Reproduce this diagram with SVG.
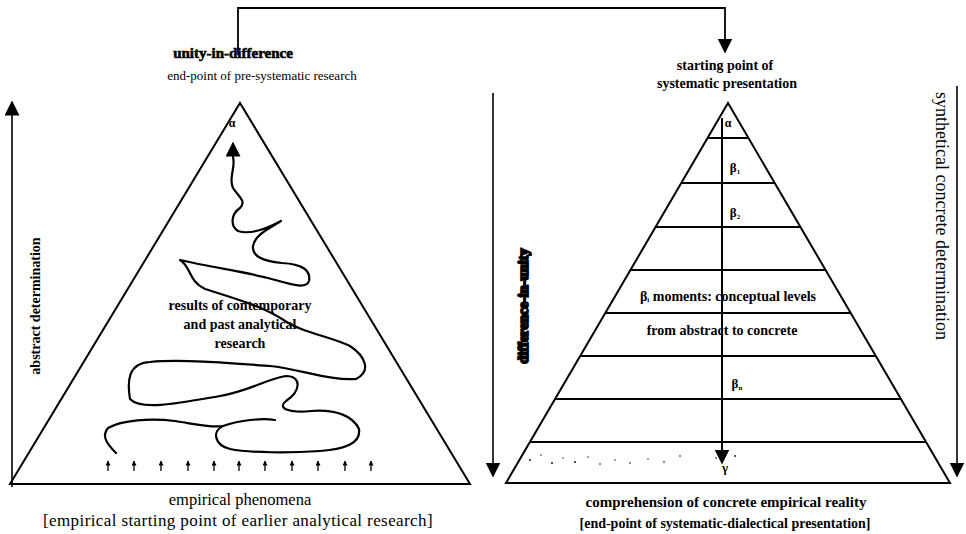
<svg xmlns="http://www.w3.org/2000/svg" width="966" height="534" viewBox="0 0 966 534">
<style>
.t{font-family:"Liberation Serif","Times New Roman",serif;fill:#000;text-anchor:middle}
.b{font-weight:bold}
.ln{stroke:#000;fill:none;stroke-width:2}
.sq{stroke:#000;fill:none;stroke-width:2.2;stroke-linejoin:round;stroke-linecap:round}
</style>
<defs>
<marker id="ahL" viewBox="0 0 10 10" refX="9" refY="5" markerWidth="15" markerHeight="15" markerUnits="userSpaceOnUse" orient="auto"><path d="M0,0 L10,5 L0,10 Z" fill="#000"/></marker>
<marker id="ahS" viewBox="0 0 10 10" refX="9" refY="5" markerWidth="5" markerHeight="5" markerUnits="userSpaceOnUse" orient="auto"><path d="M0,0 L10,5 L0,10 Z" fill="#000"/></marker>
</defs>

<g id="connectors">
<path class="ln" d="M238,55 V8 H725 V52" marker-end="url(#ahL)" style="stroke-width:1.8"/>
<line class="ln" x1="12" y1="487" x2="12" y2="102" marker-end="url(#ahL)" style="stroke-width:1.6"/>
<line class="ln" x1="493" y1="93" x2="493" y2="476" marker-end="url(#ahL)" style="stroke-width:1.6"/>
<line class="ln" x1="957" y1="86" x2="957" y2="476" marker-end="url(#ahL)" style="stroke-width:1.6"/>
<line class="ln" x1="722" y1="118" x2="722" y2="463" marker-end="url(#ahL)"/>
<path class="sq" d="M233,157 C236,168 228,178 233,188 C238,196 247,201 240,208 C231,214 230,226 238,231 C250,235 268,228 281,221 C268,229 255,235 253,246 C252,256 262,261 282,263 C302,264 311,270 309,281 C306,290 290,284 268,278 C245,272 210,267 180,260 C191,266 188,281 205,289 C230,297 262,306 282,319 C302,333 330,336 350,346 C365,356 372,371 356,379 C330,381 300,369 270,366 C230,363 180,359 150,362 C128,363 127,381 130,399 C141,411 180,403 220,396 C250,391 266,379 286,376 C302,376 301,391 286,401 C276,409 291,413 311,411 C336,409 353,416 359,429 C361,443 346,449 320,451 C290,453 250,453 230,449 C214,445 212,431 223,426 C240,420 262,418 275,420"/>
<path class="sq" d="M116,453 C107,444 101,436 108,428 C122,420 150,418 175,421 C195,424 210,428 223,426"/>
<line x1="233" y1="158" x2="233" y2="143" class="ln" marker-end="url(#ahL)" style="stroke-width:0.1"/>
<g class="ln" style="stroke-width:1.3">
<line x1="108" y1="471" x2="108" y2="461" marker-end="url(#ahS)"/>
<line x1="134" y1="471" x2="134" y2="461" marker-end="url(#ahS)"/>
<line x1="161" y1="471" x2="161" y2="461" marker-end="url(#ahS)"/>
<line x1="188" y1="471" x2="188" y2="461" marker-end="url(#ahS)"/>
<line x1="214" y1="471" x2="214" y2="461" marker-end="url(#ahS)"/>
<line x1="239" y1="471" x2="239" y2="461" marker-end="url(#ahS)"/>
<line x1="265" y1="471" x2="265" y2="461" marker-end="url(#ahS)"/>
<line x1="292" y1="471" x2="292" y2="461" marker-end="url(#ahS)"/>
<line x1="318" y1="471" x2="318" y2="461" marker-end="url(#ahS)"/>
<line x1="345" y1="471" x2="345" y2="461" marker-end="url(#ahS)"/>
<line x1="371" y1="471" x2="371" y2="461" marker-end="url(#ahS)"/>
</g>
</g>

<g id="left-triangle">
<path class="ln" d="M240,103 L470,484 L10,484 Z"/>
<text class="t b" x="232" y="127" font-size="12">α</text>
</g>

<g id="right-triangle">
<path class="ln" d="M728,103 L950,483 L506,483 Z"/>
<g class="ln">
<line x1="707.6" y1="138" x2="748.4" y2="138"/>
<line x1="681" y1="183" x2="775" y2="183"/>
<line x1="655.6" y1="227" x2="800.4" y2="227"/>
<line x1="630.5" y1="270" x2="825.5" y2="270"/>
<line x1="605" y1="313" x2="851" y2="313"/>
<line x1="580" y1="356" x2="876" y2="356"/>
<line x1="555" y1="399" x2="901" y2="399"/>
<line x1="530" y1="442" x2="926" y2="442"/>
</g>
<g fill="#000">
<circle cx="530" cy="460" r="0.9"/><circle cx="541" cy="455" r="0.7"/><circle cx="552" cy="463" r="0.9"/><circle cx="563" cy="458" r="0.7"/><circle cx="575" cy="462" r="0.9"/><circle cx="588" cy="457" r="0.7"/><circle cx="600" cy="464" r="0.8"/><circle cx="615" cy="460" r="0.7"/><circle cx="630" cy="463" r="0.8"/><circle cx="648" cy="459" r="0.7"/><circle cx="664" cy="462" r="0.8"/><circle cx="680" cy="456" r="0.8"/><circle cx="735" cy="456" r="0.9"/><circle cx="716" cy="458" r="0.8"/>
</g>
</g>

<g id="labels">
<text class="t b" x="233" y="58" font-size="15" stroke="#000" stroke-width="0.6">unity-in-difference</text>
<text class="t" x="262" y="80" font-size="13">end-point of pre-systematic research</text>
<text class="t b" x="0" y="0" font-size="14" transform="translate(40,306) rotate(-90)">abstract determination</text>
<text class="t b" x="240" y="310" font-size="14">results of contemporary</text>
<text class="t b" x="240" y="329" font-size="14">and past analytical</text>
<text class="t b" x="240" y="348" font-size="14">research</text>
<text class="t" x="240" y="505" font-size="16.5">empirical phenomena</text>
<text class="t" x="238" y="526" font-size="17" letter-spacing="0.4">[empirical starting point of earlier analytical research]</text>

<text class="t b" x="725" y="70" font-size="14">starting point of</text>
<text class="t b" x="727" y="88" font-size="14">systematic presentation</text>
<text class="t b" x="728" y="127" font-size="12">α</text>
<text class="t b" x="735" y="172" font-size="13">β<tspan font-size="7" dy="2">1</tspan></text>
<text class="t b" x="735" y="217" font-size="13">β<tspan font-size="7" dy="2">2</tspan></text>
<text class="t b" x="728" y="301" font-size="14">β<tspan font-size="7" dy="1">i</tspan><tspan dy="-1"> moments: conceptual levels</tspan></text>
<text class="t b" x="722" y="335" font-size="14">from abstract to concrete</text>
<text class="t b" x="737" y="388" font-size="13">β<tspan font-size="7" dy="2">n</tspan></text>
<text class="t b" x="725" y="472" font-size="13">γ</text>
<text class="t" x="0" y="0" font-size="18" transform="translate(936,216) rotate(90)">synthetical concrete determination</text>
<text class="t b" x="0" y="0" font-size="14.5" stroke="#000" stroke-width="1.8" transform="translate(528,306) rotate(-90)">difference-in-unity</text>
<text class="t b" x="726" y="507" font-size="15">comprehension of concrete empirical reality</text>
<text class="t b" x="725" y="528" font-size="14">[end-point of systematic-dialectical presentation]</text>
</g>
</svg>
